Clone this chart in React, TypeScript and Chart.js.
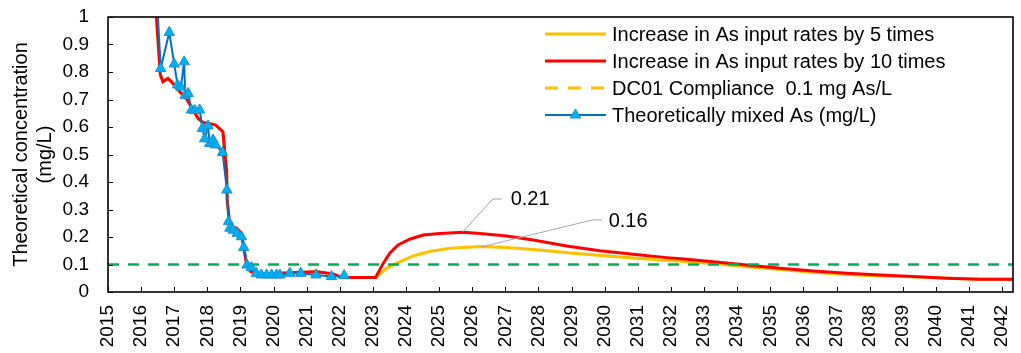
import React, { useEffect, useRef } from 'react';
import { Chart, registerables } from 'chart.js';

Chart.register(...registerables);

// ---------- data ----------
const xTickYears = [
  2015, 2016, 2017, 2018, 2019, 2020, 2021, 2022, 2023, 2024, 2025, 2026, 2027, 2028,
  2029, 2030, 2031, 2032, 2033, 2034, 2035, 2036, 2037, 2038, 2039, 2040, 2041, 2042,
];
const yTickValues = [0, 0.1, 0.2, 0.3, 0.4, 0.5, 0.6, 0.7, 0.8, 0.9, 1];

// shared modelled history (both scenarios identical until 2023)
const historyYears = [
  2016.35, 2016.58, 2016.66, 2016.81, 2016.91, 2017.17, 2017.37, 2017.57, 2017.72, 2017.87,
  2018.12, 2018.25, 2018.47, 2018.58, 2018.6, 2018.68, 2018.88, 2019.03, 2019.13, 2019.18,
  2019.3, 2019.5, 2019.8, 2020.1, 2020.24, 2020.5, 2021.3, 2021.8, 2022.05, 2023.08,
];
const historyValues = [
  1.2, 0.79, 0.765, 0.777, 0.765, 0.728, 0.704, 0.662, 0.632, 0.616,
  0.611, 0.607, 0.583, 0.44, 0.335, 0.237, 0.232, 0.213, 0.14, 0.104,
  0.075, 0.065, 0.06, 0.06, 0.068, 0.07, 0.074, 0.066, 0.053, 0.053,
];

const fiveTimesYears = [
  2023.41, 2023.71, 2024.21, 2024.71, 2025.32, 2026.23, 2027.04, 2028.04, 2029.05, 2030.06,
  2031.06, 2032.07, 2033.28, 2034.29, 2035.3, 2036.3, 2037.31, 2038.32, 2039.32, 2040.33,
  2041.34, 2042.4,
];
const fiveTimesValues = [
  0.086, 0.104, 0.131, 0.147, 0.159, 0.165, 0.162, 0.153, 0.141, 0.131,
  0.122, 0.114, 0.104, 0.092, 0.082, 0.072, 0.064, 0.058, 0.055, 0.05,
  0.046, 0.046,
];

const tenTimesYears = [
  2023.31, 2023.51, 2023.76, 2024.11, 2024.52, 2025.02, 2025.72, 2026.23, 2027.04, 2027.84,
  2028.85, 2029.85, 2030.86, 2031.87, 2032.4, 2033.28, 2034.29, 2035.3, 2036.3, 2037.31,
  2038.32, 2039.32, 2040.33, 2041.34, 2042.4,
];
const tenTimesValues = [
  0.104, 0.141, 0.171, 0.192, 0.207, 0.213, 0.217, 0.213, 0.204, 0.189,
  0.167, 0.15, 0.137, 0.125, 0.12, 0.11, 0.098, 0.086, 0.076, 0.068,
  0.062, 0.056, 0.05, 0.046, 0.046,
];

const mixedYears = [
  2016.42, 2016.59, 2016.85, 2017.0, 2017.1, 2017.2, 2017.3, 2017.33, 2017.42, 2017.52,
  2017.62, 2017.77, 2017.85, 2017.92, 2018.02, 2018.07, 2018.17, 2018.25, 2018.46, 2018.59,
  2018.64, 2018.68, 2018.78, 2018.9, 2019.03, 2019.1, 2019.2, 2019.33, 2019.48, 2019.63,
  2019.79, 2019.94, 2020.09, 2020.19, 2020.49, 2020.82, 2021.28, 2021.75, 2022.13,
];
const mixedValues = [
  1.2, 0.813, 0.944, 0.829, 0.753, 0.745, 0.837, 0.715, 0.722, 0.662,
  0.66, 0.662, 0.595, 0.557, 0.604, 0.54, 0.553, 0.535, 0.507, 0.371,
  0.256, 0.232, 0.225, 0.213, 0.201, 0.162, 0.098, 0.089, 0.068, 0.062,
  0.062, 0.062, 0.062, 0.062, 0.068, 0.068, 0.062, 0.056, 0.06,
];

const complianceYears = [2015, 2042.33];
const complianceValues = [0.1, 0.1];

const legendLabels = [
  'Increase in As input rates by 5 times',
  'Increase in As input rates by 10 times',
  'DC01 Compliance  0.1 mg As/L',
  'Theoretically mixed As (mg/L)',
];
const peakLabels = ['0.21', '0.16'];
const peakYears = [2025.71, 2026.28];
const peakValues = [0.218, 0.164];

// ---------- styling / layout ----------
const FONT = "'Liberation Sans', Arial, Helvetica, sans-serif";
const ORANGE = '#FFC000';
const RED = '#FF0000';
const GREEN = '#00B050';
const BLUE = '#0070C0';
const MARKER_FILL = '#00B0F0';
const MARKER_EDGE = '#1A8FD6';

const toPoints = (xs: number[], ys: number[]) => xs.map((x, i) => ({ x, y: ys[i] }));

// label geometry in data coordinates: elbow, end of horizontal, text start
const calloutGeometry = [
  { elbowX: 2026.62, elbowY: 0.338, endX: 2026.89, textX: 2027.16, textY: 0.335 },
  { elbowX: 2029.63, elbowY: 0.262, endX: 2029.91, textX: 2030.12, textY: 0.258 },
];

const frameTicksPlugin = {
  id: 'frameTicks',
  afterDatasetsDraw(chart: any) {
    const { ctx, chartArea, scales } = chart;
    const { left, top, right, bottom } = chartArea;
    const x = scales.x;
    const y = scales.y;
    ctx.save();
    ctx.strokeStyle = '#000';
    ctx.lineWidth = 1;
    ctx.beginPath();
    for (const v of yTickValues) {
      const py = Math.round(y.getPixelForValue(v)) + 0.5;
      ctx.moveTo(left, py);
      ctx.lineTo(left + 5, py);
    }
    for (const v of xTickYears) {
      const px = Math.round(x.getPixelForValue(v)) + 0.5;
      ctx.moveTo(px, bottom);
      ctx.lineTo(px, bottom - 5);
    }
    ctx.stroke();
    ctx.lineWidth = 1.6;
    ctx.strokeRect(left, top, right - left, bottom - top);
    ctx.restore();
  },
};

const calloutPlugin = {
  id: 'callouts',
  afterDatasetsDraw(chart: any) {
    const { ctx, scales } = chart;
    const x = scales.x;
    const y = scales.y;
    ctx.save();
    ctx.strokeStyle = '#A6A6A6';
    ctx.lineWidth = 1;
    ctx.font = `20px ${FONT}`;
    ctx.fillStyle = '#000';
    ctx.textAlign = 'left';
    ctx.textBaseline = 'middle';
    peakLabels.forEach((label, i) => {
      const g = calloutGeometry[i];
      ctx.beginPath();
      ctx.moveTo(x.getPixelForValue(peakYears[i]), y.getPixelForValue(peakValues[i]));
      ctx.lineTo(x.getPixelForValue(g.elbowX), y.getPixelForValue(g.elbowY));
      ctx.lineTo(x.getPixelForValue(g.endX), y.getPixelForValue(g.elbowY));
      ctx.stroke();
      ctx.fillText(label, x.getPixelForValue(g.textX), y.getPixelForValue(g.textY));
    });
    ctx.restore();
  },
};

const legendPlugin = {
  id: 'boxLegend',
  afterDraw(chart: any) {
    const { ctx } = chart;
    const x0 = 545;
    const x1 = 606;
    const textX = 612;
    const rows = [34, 61, 88, 115];
    ctx.save();
    ctx.font = `20px ${FONT}`;
    ctx.fillStyle = '#000';
    ctx.textAlign = 'left';
    ctx.textBaseline = 'middle';
    legendLabels.forEach((label, i) => {
      const cy = rows[i];
      ctx.save();
      ctx.beginPath();
      if (i === 0 || i === 1) {
        ctx.strokeStyle = i === 0 ? ORANGE : RED;
        ctx.lineWidth = 3;
        ctx.moveTo(x0, cy);
        ctx.lineTo(x1, cy);
        ctx.stroke();
      } else if (i === 2) {
        ctx.strokeStyle = ORANGE;
        ctx.lineWidth = 3;
        ctx.setLineDash([13, 10]);
        ctx.moveTo(x0, cy);
        ctx.lineTo(x1, cy);
        ctx.stroke();
      } else {
        ctx.strokeStyle = BLUE;
        ctx.lineWidth = 2;
        ctx.moveTo(x0, cy);
        ctx.lineTo(x1, cy);
        ctx.stroke();
        const cx = (x0 + x1) / 2;
        const r = 6;
        ctx.beginPath();
        ctx.moveTo(cx, cy - r);
        ctx.lineTo(cx + r * 0.866, cy + r / 2);
        ctx.lineTo(cx - r * 0.866, cy + r / 2);
        ctx.closePath();
        ctx.fillStyle = MARKER_FILL;
        ctx.fill();
        ctx.strokeStyle = MARKER_EDGE;
        ctx.lineWidth = 1;
        ctx.stroke();
      }
      ctx.restore();
      ctx.fillText(label, textX, cy + 1);
    });
    ctx.restore();
  },
};

export default function App() {
  const canvasRef = useRef<HTMLCanvasElement | null>(null);

  useEffect(() => {
    if (!canvasRef.current) return;
    Chart.defaults.font.family = FONT;
    Chart.defaults.color = '#000';

    const orangeData = toPoints(historyYears, historyValues).concat(
      toPoints(fiveTimesYears, fiveTimesValues)
    );
    const redData = toPoints(historyYears, historyValues).concat(
      toPoints(tenTimesYears, tenTimesValues)
    );

    const chart = new Chart(canvasRef.current, {
      type: 'line',
      data: {
        datasets: [
          {
            label: legendLabels[3],
            data: toPoints(mixedYears, mixedValues),
            borderColor: BLUE,
            borderWidth: 2,
            pointStyle: 'triangle',
            pointRadius: (c: any) => (c.raw && c.raw.y > 1 ? 0 : 6),
            pointBackgroundColor: MARKER_FILL,
            pointBorderColor: MARKER_EDGE,
            pointBorderWidth: 1,
            fill: false,
          },
          {
            label: legendLabels[2],
            data: toPoints(complianceYears, complianceValues),
            borderColor: GREEN,
            borderWidth: 2.5,
            borderDash: [11, 9],
            pointRadius: 0,
            fill: false,
          },
          {
            label: legendLabels[1],
            data: redData,
            borderColor: RED,
            borderWidth: 3,
            pointRadius: 0,
            fill: false,
          },
          {
            label: legendLabels[0],
            data: orangeData,
            borderColor: ORANGE,
            borderWidth: 3,
            pointRadius: 0,
            fill: false,
          },
        ],
      },
      options: {
        animation: false,
        responsive: true,
        maintainAspectRatio: false,
        devicePixelRatio: 1,
        layout: { padding: { left: 0, top: 17, right: 8, bottom: 0 } },
        plugins: {
          legend: { display: false },
          tooltip: { enabled: false },
        },
        scales: {
          x: {
            type: 'linear',
            min: 2015,
            max: 2042.33,
            grid: { display: false, drawTicks: false },
            border: { display: false },
            afterBuildTicks: (scale: any) => {
              scale.ticks = xTickYears.map((v) => ({ value: v }));
            },
            afterFit: (scale: any) => {
              scale.height = 61;
              scale.paddingLeft = 0;
              scale.paddingRight = 0;
              scale.paddingTop = 0;
              scale.paddingBottom = 0;
            },
            ticks: {
              autoSkip: false,
              minRotation: 90,
              maxRotation: 90,
              padding: 13,
              font: { size: 19, family: FONT },
              color: '#000',
              callback: (v: any) => String(Math.round(Number(v))),
            },
          },
          y: {
            type: 'linear',
            min: 0,
            max: 1,
            grid: { display: false, drawTicks: false },
            border: { display: false },
            afterBuildTicks: (scale: any) => {
              scale.ticks = yTickValues.map((v) => ({ value: v }));
            },
            afterFit: (scale: any) => {
              scale.width = 108;
              scale.paddingLeft = 0;
              scale.paddingRight = 0;
              scale.paddingTop = 0;
              scale.paddingBottom = 0;
            },
            ticks: {
              padding: 19,
              font: { size: 19, family: FONT },
              color: '#000',
              callback: (v: any) => String(Math.round(Number(v) * 10) / 10),
            },
            title: {
              display: true,
              text: ['Theoretical concentration', '(mg/L)'],
              font: { size: 20, family: FONT },
              color: '#000',
              padding: { top: 9, bottom: 0 },
            },
          },
        },
      },
      plugins: [frameTicksPlugin, calloutPlugin, legendPlugin],
    } as any);

    return () => chart.destroy();
  }, []);

  return (
    <div style={{ position: 'absolute', left: 0, top: 0, width: 1021, height: 353, background: '#fff' }}>
      <canvas ref={canvasRef} />
    </div>
  );
}
